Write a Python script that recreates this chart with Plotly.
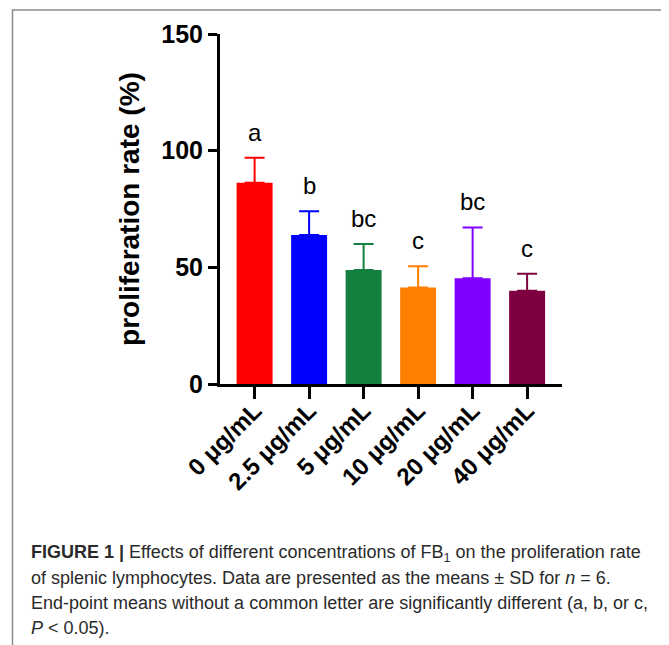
import plotly.graph_objects as go

categories = ["0 μg/mL", "2.5 μg/mL", "5 μg/mL", "10 μg/mL", "20 μg/mL", "40 μg/mL"]
means = [86.3, 63.9, 48.9, 41.4, 45.3, 40.0]
sd = [10.7, 10.1, 11.1, 9.1, 21.8, 7.2]
letters = ["a", "b", "bc", "c", "bc", "c"]
colors = ["#FF0000", "#0000FF", "#157F3F", "#FF8000", "#8000FF", "#7F0040"]
caption_lines = [
    "<b>FIGURE 1 |</b> Effects of different concentrations of FB<sub>1</sub> on the proliferation rate",
    "of splenic lymphocytes. Data are presented as the means ± SD for <i>n</i> = 6.",
    "End-point means without a common letter are significantly different (a, b, or c,",
    "<i>P</i> < 0.05).",
]

FONT = "Arial, Liberation Sans, sans-serif"
OFF = 8  # page body margin
W, H = 669 - OFF, 645 - OFF
L = 220 - OFF
T = 34 - OFF
R = W - (562 - OFF)
B = H - (384 - OFF)
pw, ph = W - L - R, H - T - B

def px(x):
    return (x - OFF - L) / pw

def py(y):
    return (H - B - (y - OFF)) / ph

fig = go.Figure()
for i, c in enumerate(categories):
    fig.add_trace(go.Bar(
        x=[c], y=[means[i]],
        marker=dict(color=colors[i], line=dict(width=0)),
        width=0.66,
        error_y=dict(type="data", array=[sd[i]], symmetric=False, arrayminus=[0],
                     color=colors[i], thickness=2, width=10),
        showlegend=False,
    ))
    fig.add_annotation(x=c, y=means[i] + sd[i], text=letters[i], showarrow=False,
                       yanchor="bottom", yshift=10,
                       font=dict(family=FONT, size=24, color="black"))

for k, line in enumerate(caption_lines):
    fig.add_annotation(xref="paper", yref="paper", x=px(29), y=py(553 + 25 * k),
                       xanchor="left", yanchor="middle", showarrow=False, align="left",
                       text=line, font=dict(family=FONT, size=18, color="#2a2a2a"))

fig.add_shape(type="rect", xref="paper", yref="paper",
              x0=px(12.5), x1=px(666.5), y0=py(720), y1=py(10),
              line=dict(color="#8a8a8a", width=1.5), fillcolor="rgba(0,0,0,0)", layer="below")

fig.update_layout(
    width=W, height=H,
    margin=dict(l=L, r=R, t=T, b=B, autoexpand=False),
    paper_bgcolor="white", plot_bgcolor="white",
    barmode="overlay",
    font=dict(family=FONT, color="black"),
    xaxis=dict(
        type="category", categoryorder="array", categoryarray=categories,
        range=[-0.635, 5.64],
        showline=True, linecolor="black", linewidth=3,
        ticks="outside", ticklen=12, tickwidth=3, tickcolor="black",
        ticklabelstandoff=-12,
        tickangle=-45, tickfont=dict(family=FONT, size=24, color="black", weight="bold"),
        showgrid=False, zeroline=False,
    ),
    yaxis=dict(
        range=[0, 150], tickvals=[0, 50, 100, 150],
        showline=True, linecolor="black", linewidth=3,
        ticks="outside", ticklen=9, tickwidth=3, tickcolor="black",
        tickfont=dict(family=FONT, size=25, color="black", weight="bold"),
        title=dict(text="proliferation rate (%)", standoff=14,
                   font=dict(family=FONT, size=28, color="black", weight="bold")),
        showgrid=False, zeroline=False,
    ),
)

fig.write_html("out.html")
